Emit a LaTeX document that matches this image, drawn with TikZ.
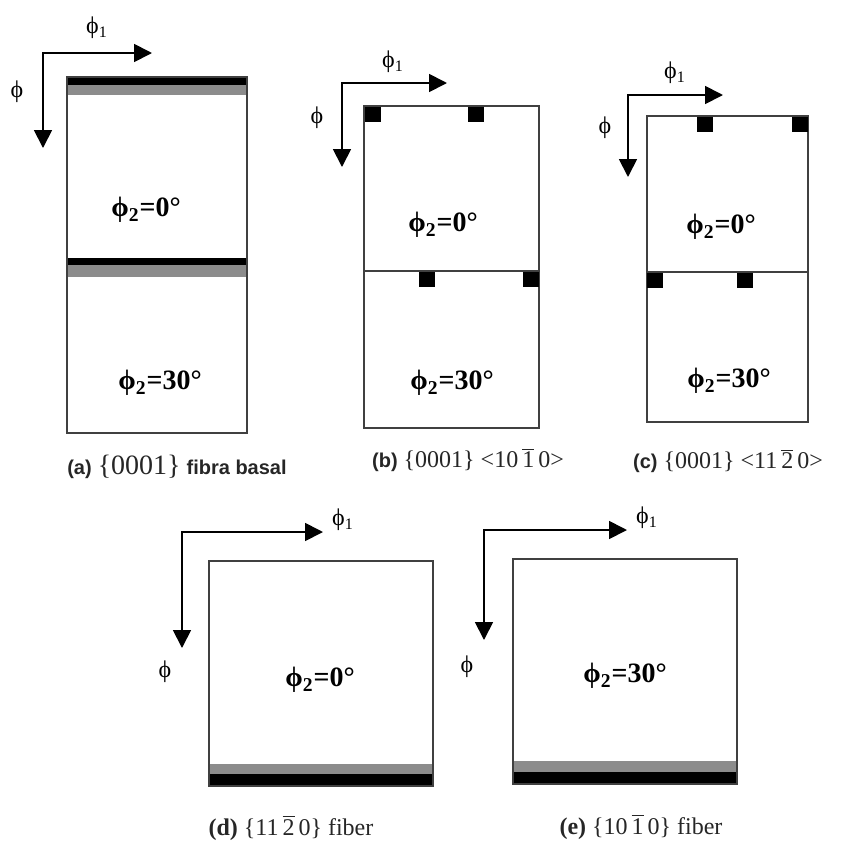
\documentclass[tikz,border=0pt]{standalone}
\usepackage{fontspec}
\setmainfont{Liberation Serif}
\setsansfont{Liberation Sans}
\usetikzlibrary{arrows.meta}

\tikzset{
  axes/.style={line width=0.9pt, {Triangle[length=9pt,width=9pt]}-{Triangle[length=9pt,width=9pt]}},
  cell/.style={draw=black!75, line width=0.9pt},
  pole/.style={fill=black},
  shade/.style={fill=black!45},
  angle/.style={font=\fontsize{14}{16}\selectfont\bfseries},
  axlbl/.style={font=\fontsize{12}{14}\selectfont},
  capt/.style={font=\fontsize{12}{14}\selectfont, text=black!85},
}
\newcommand{\panel}[1]{{\sffamily\bfseries\fontsize{10}{12}\selectfont(#1)}}
\newcommand{\negbar}[1]{$\overline{\mbox{#1}}$}
\newcommand{\ph}{ϕ}

\begin{document}
\begin{tikzpicture}[x=0.5pt,y=-0.5pt]
  \useasboundingbox (0,0) rectangle (844,853);
  % (a) basal fibre
  \fill[black] (67,77) rectangle (247,85);   \fill[shade] (67,85) rectangle (247,95);
  \fill[black] (67,258) rectangle (247,265); \fill[shade] (67,265) rectangle (247,277);
  \draw[cell] (67,77) rectangle (247,433);
  \coordinate (ao) at (43,53); \coordinate (ax) at (152,53); \coordinate (ay) at (43,148);
  \draw[axes] (ay) -- (ao) -- (ax);
  \node[axlbl] (aphi1) at (97,28) {\ph\textsubscript{1}};
  \node[axlbl] (aphi) at (17,92) {\ph};
  \node[angle] (a0) at (146,210) {\ph\textsubscript{2}=0°};
  \node[angle] (a30) at (160,383) {\ph\textsubscript{2}=30°};
  \node[capt] (acap) at (177,467) {\panel{a} {\fontsize{14}{16}\selectfont\{0001\}} {\sffamily\bfseries\fontsize{10}{12}\selectfont fibra basal}};
  % (b)
  \draw[cell] (364,106) rectangle (539,428);
  \draw[cell] (364,271) -- (539,271);
  \foreach \x/\y in {365/107,468/107,419/272,523/272}
    { \fill[pole] (\x,\y) rectangle ++(16,15); }
  \coordinate (bo) at (342,83); \coordinate (bx) at (447,83); \coordinate (by) at (342,167);
  \draw[axes] (by) -- (bo) -- (bx);
  \node[axlbl] (bphi1) at (393,62) {\ph\textsubscript{1}};
  \node[axlbl] (bphi) at (317,118) {\ph};
  \node[angle] (b0) at (443,225) {\ph\textsubscript{2}=0°};
  \node[angle] (b30) at (452,383) {\ph\textsubscript{2}=30°};
  \node[capt] (bcap) at (468,460) {\panel{b} \{0001\} <10\,\negbar{1}\,0>};
  % (c)
  \draw[cell] (647,116) rectangle (808,422);
  \draw[cell] (647,272) -- (808,272);
  \foreach \x/\y in {697/117,792/117,647/273,737/273}
    { \fill[pole] (\x,\y) rectangle ++(16,15); }
  \coordinate (co) at (628,95); \coordinate (cx) at (723,95); \coordinate (cy) at (628,177);
  \draw[axes] (cy) -- (co) -- (cx);
  \node[axlbl] (cphi1) at (675,73) {\ph\textsubscript{1}};
  \node[axlbl] (cphi) at (605,128) {\ph};
  \node[angle] (c0) at (721,227) {\ph\textsubscript{2}=0°};
  \node[angle] (c30) at (729,381) {\ph\textsubscript{2}=30°};
  \node[capt] (ccap) at (728,461) {\panel{c} \{0001\} <11\,\negbar{2}\,0>};
  % (d)
  \fill[shade] (209,764) rectangle (433,774); \fill[black] (209,774) rectangle (433,786);
  \draw[cell] (209,561) rectangle (433,786);
  \coordinate (do) at (182,532); \coordinate (dx) at (323,532); \coordinate (dy) at (182,648);
  \draw[axes] (dy) -- (do) -- (dx);
  \node[axlbl] (dphi1) at (343,520) {\ph\textsubscript{1}};
  \node[axlbl] (dphi) at (165,672) {\ph};
  \node[angle] (d0) at (320,680) {\ph\textsubscript{2}=0°};
  \node[capt] (dcap) at (291,828) {\textbf{(d)} \{11\,\negbar{2}\,0\} fiber};
  % (e)
  \fill[shade] (513,761) rectangle (737,772); \fill[black] (513,772) rectangle (737,784);
  \draw[cell] (513,559) rectangle (737,784);
  \coordinate (eo) at (484,530); \coordinate (ex) at (627,530); \coordinate (ey) at (484,640);
  \draw[axes] (ey) -- (eo) -- (ex);
  \node[axlbl] (ephi1) at (647,518) {\ph\textsubscript{1}};
  \node[axlbl] (ephi) at (467,667) {\ph};
  \node[angle] (e30) at (625,676) {\ph\textsubscript{2}=30°};
  \node[capt] (ecap) at (641,827) {\textbf{(e)} \{10\,\negbar{1}\,0\} fiber};
\end{tikzpicture}
\end{document}
